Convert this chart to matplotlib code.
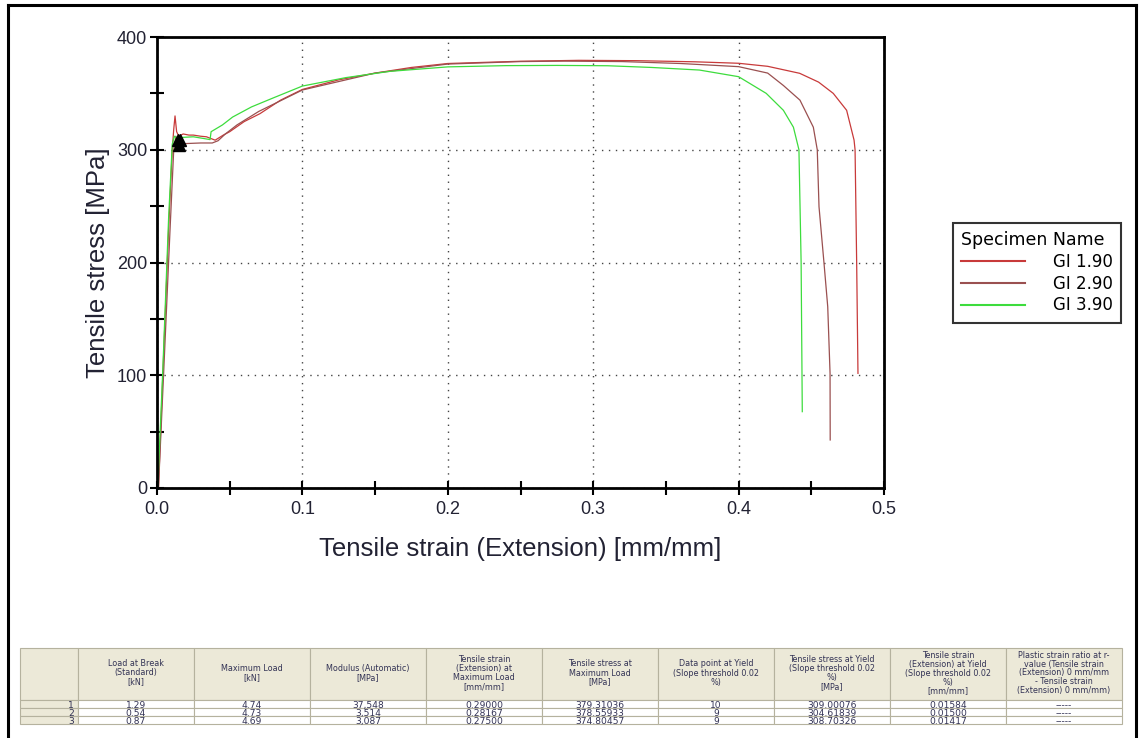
import matplotlib
matplotlib.use("Agg")
import matplotlib.pyplot as plt
from matplotlib.lines import Line2D
from matplotlib.patches import Rectangle

# --- curve data ---
names = ["GI 1.90", "GI 2.90", "GI 3.90"]
colors = ["#c83a3a", "#9a5050", "#3ddc3d"]

strain_1 = [0.0, 0.001, 0.004, 0.008, 0.0105, 0.0115, 0.0124, 0.0135, 0.015, 0.018,
            0.022, 0.025, 0.030, 0.034, 0.040, 0.0456, 0.050, 0.060, 0.0708, 0.085,
            0.100, 0.125, 0.150, 0.175, 0.200, 0.250, 0.290, 0.330, 0.370, 0.400,
            0.420, 0.442, 0.455, 0.4651, 0.4743, 0.4794, 0.4801, 0.4812, 0.4821]
stress_1 = [0, 0, 100, 230, 300, 318, 330, 316, 312, 314,
            313, 313, 312, 311.5, 308.5, 313, 316, 325, 332, 344,
            353.5, 362, 368, 373, 376.5, 378.5, 379.3, 379, 378, 376.7,
            374, 367.8, 360, 350, 335, 308.6, 300, 200, 101.7]

strain_2 = [0.0, 0.001, 0.0045, 0.009, 0.0115, 0.013, 0.015, 0.020, 0.030, 0.038,
            0.042, 0.047, 0.055, 0.070, 0.100, 0.150, 0.200, 0.250, 0.280, 0.320,
            0.360, 0.400, 0.420, 0.4308, 0.4422, 0.4514, 0.4541, 0.4553, 0.4587,
            0.4613, 0.4629, 0.4630]
stress_2 = [0, 0, 100, 230, 300, 312, 305, 305.5, 306, 306,
            308, 314, 322, 334, 353, 368, 376, 378.2, 378.6, 378.2,
            376.5, 373.7, 368, 357, 344, 320, 300, 249.5, 200,
            160.8, 101.7, 42.6]

strain_3 = [0.0, 0.0005, 0.004, 0.008, 0.0105, 0.012, 0.01417, 0.018, 0.025, 0.032,
            0.0365, 0.0372, 0.045, 0.052, 0.065, 0.080, 0.100, 0.130, 0.160, 0.200,
            0.240, 0.275, 0.310, 0.340, 0.373, 0.400, 0.419, 0.4308, 0.4377, 0.4415,
            0.4430, 0.4438]
stress_3 = [0, 0, 105, 240, 305, 312, 309.5, 311, 311.5, 310,
            309, 316, 322, 329, 338, 346, 356.5, 364, 369.5, 373.5,
            374.6, 374.8, 374.5, 373, 370.7, 364.8, 350, 335, 320, 300,
            200, 67.7]

yield_strain = [0.01584, 0.01500, 0.01417]
yield_stress = [309.00076, 304.61839, 308.70326]

# --- results table ---
col_headers = ["",
               "Load at Break\n(Standard)\n[kN]",
               "Maximum Load\n[kN]",
               "Modulus (Automatic)\n[MPa]",
               "Tensile strain\n(Extension) at\nMaximum Load\n[mm/mm]",
               "Tensile stress at\nMaximum Load\n[MPa]",
               "Data point at Yield\n(Slope threshold 0.02\n%)",
               "Tensile stress at Yield\n(Slope threshold 0.02\n%)\n[MPa]",
               "Tensile strain\n(Extension) at Yield\n(Slope threshold 0.02\n%)\n[mm/mm]",
               "Plastic strain ratio at r-\nvalue (Tensile strain\n(Extension) 0 mm/mm\n- Tensile strain\n(Extension) 0 mm/mm)"]
row_ids = ["1", "2", "3"]
table_rows = [
    ["1.29", "4.74", "37,548", "0.29000", "379.31036", "10", "309.00076", "0.01584", "-----"],
    ["0.54", "4.73", "3,514", "0.28167", "378.55933", "9", "304.61839", "0.01500", "-----"],
    ["0.87", "4.69", "3,087", "0.27500", "374.80457", "9", "308.70326", "0.01417", "-----"],
]

W, H = 1143, 738
fig = plt.figure(figsize=(W / 100, H / 100), dpi=100)


def fx(px):
    return px / W


def fy(py):
    return 1 - py / H


ax = fig.add_axes([fx(157), fy(488), fx(884) - fx(157), fy(37) - fy(488)])

curves = [(strain_1, stress_1), (strain_2, stress_2), (strain_3, stress_3)]
for (xs, ys), name, c in zip(curves, names, colors):
    ax.plot(xs, ys, color=c, lw=0.9, label=name)
ax.plot(yield_strain, yield_stress, "^", color="black", ms=9, ls="none", zorder=5)

ax.set_xlim(0, 0.5)
ax.set_ylim(0, 400)
ax.set_xticks([0.0, 0.1, 0.2, 0.3, 0.4, 0.5])
ax.set_xticks([0.05, 0.15, 0.25, 0.35, 0.45], minor=True)
ax.set_yticks([0, 100, 200, 300, 400])
ax.set_yticks([50, 150, 250, 350], minor=True)
ax.set_xticklabels(["0.0", "0.1", "0.2", "0.3", "0.4", "0.5"])
ax.grid(True, which="major", ls=(0, (1, 4)), color="#444444", lw=1.0)

sans = ["Liberation Sans", "DejaVu Sans"]
for lab in ax.get_xticklabels() + ax.get_yticklabels():
    lab.set_fontfamily(sans)
    lab.set_fontsize(13)
    lab.set_color("#222233")
ax.tick_params(which="both", direction="inout", length=10, width=1.5, color="black")
ax.tick_params(axis="x", which="both", pad=4)
ax.tick_params(axis="y", which="both", pad=2)
for sp in ax.spines.values():
    sp.set_linewidth(2)
    sp.set_color("black")

ax.set_xlabel("Tensile strain (Extension) [mm/mm]", family=sans,
              fontsize=18.5, color="#222233", labelpad=14)
ax.set_ylabel("Tensile stress [MPa]", family=sans,
              fontsize=18.5, color="#222233", labelpad=5)

# legend box on the right
handles = [Line2D([], [], color=c, lw=1.5) for c in colors]
leg = fig.legend(handles, names, loc="upper left", bbox_to_anchor=(fx(953), fy(223)),
                 title="Specimen Name", title_fontsize=12.5, fontsize=12,
                 alignment="left", frameon=True, fancybox=False, edgecolor="black",
                 handlelength=3.8, handletextpad=1.7, borderpad=0.5, labelspacing=0.22,
                 borderaxespad=0)
leg.get_frame().set_linewidth(1.5)

# results table at the bottom
beige = "#ece9d8"
edge = "#b5b29e"
tab_left, first_w, col_w = 20, 58, 116
head_top, head_bot, row_h = 648, 700, 8
head_txt = dict(family="DejaVu Sans", fontsize=5.8, color="#333355")
cell_txt = dict(family="DejaVu Sans", fontsize=6.6, color="#333355")

xs_edges = [tab_left, tab_left + first_w] + [tab_left + first_w + col_w * (i + 1) for i in range(9)]
for i, hdr in enumerate(col_headers):
    x0, x1 = xs_edges[i], xs_edges[i + 1]
    fig.add_artist(Rectangle((fx(x0), fy(head_bot)), fx(x1 - x0), fy(head_top) - fy(head_bot),
                             transform=fig.transFigure, facecolor=beige, edgecolor=edge, lw=0.8))
    if hdr:
        fig.text(fx((x0 + x1) / 2), fy(673), hdr, ha="center", va="center",
                 linespacing=1.0, **head_txt)
for r, (rid, vals) in enumerate(zip(row_ids, table_rows)):
    y0 = head_bot + r * row_h
    for i in range(10):
        x0, x1 = xs_edges[i], xs_edges[i + 1]
        fc = beige if i == 0 else "white"
        fig.add_artist(Rectangle((fx(x0), fy(y0 + row_h)), fx(x1 - x0), fy(y0) - fy(y0 + row_h),
                                 transform=fig.transFigure, facecolor=fc, edgecolor=edge, lw=0.8))
        ty = fy(y0 + row_h / 2 + 0.5)
        if i == 0:
            fig.text(fx(x1 - 4), ty, rid, ha="right", va="center_baseline", **cell_txt)
        else:
            fig.text(fx((x0 + x1) / 2), ty, vals[i - 1], ha="center",
                     va="center_baseline", **cell_txt)

# outer frame of the report
for xs_, ys_ in [([8, 8], [5, 740]), ([8, 1136], [5, 5]), ([1136, 1136], [5, 740])]:
    fig.add_artist(Line2D([fx(v) for v in xs_], [fy(v) for v in ys_], color="black", lw=2.2,
                          transform=fig.transFigure))

fig.savefig("out.png", dpi=100, facecolor="white")
